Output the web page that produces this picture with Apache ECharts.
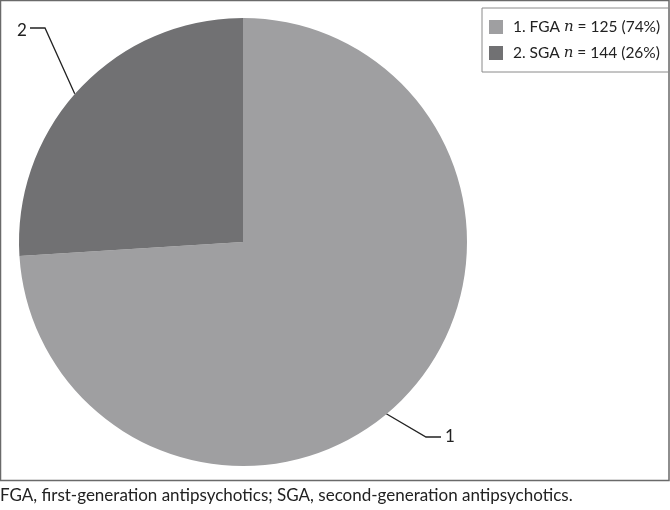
<!DOCTYPE html>
<html><head><meta charset="utf-8">
<script src="https://cdn.jsdelivr.net/npm/echarts@6/dist/echarts.min.js"></script>
<style>html,body{margin:0;padding:0;background:#fff}#c{width:670px;height:510px}</style>
</head><body><div id="c"></div>
<script>
var categories = ['1. FGA', '2. SGA'];
var counts = [125, 144];
var percents = [74, 26];
var sliceLabels = ['1', '2'];
var caption = 'FGA, first-generation antipsychotics; SGA, second-generation antipsychotics.';
var colors = ['#9f9fa1', '#717173'];

var chart = echarts.init(document.getElementById('c'));
var data = categories.map(function (c, i) {
  return { name: c, value: percents[i], itemStyle: { color: colors[i] } };
});
var FONT = 'Lato, "Open Sans", sans-serif';
chart.setOption({
  animation: false,
  graphic: [
    { type: 'rect', shape: { x: 0.5, y: 0.5, width: 668.5, height: 480 }, style: { fill: 'none', stroke: '#6a6a6a', lineWidth: 1.5 }, silent: true },
    { type: 'text', left: 0, top: 487, style: { text: caption, font: '17px ' + FONT, fill: '#222' } }
  ],
  legend: {
    orient: 'vertical',
    left: 482, top: 8,
    padding: [11, 9, 11, 7],
    borderColor: '#8a8a8a', borderWidth: 1,
    itemWidth: 14, itemHeight: 14, itemGap: 10,
    icon: 'rect',
    formatter: function (name) {
      var i = categories.indexOf(name);
      return name + ' {i|n} = ' + counts[i] + ' (' + percents[i] + '%)';
    },
    textStyle: {
      fontFamily: FONT, fontSize: 15.5, color: '#222', padding: [0, 0, 0, 5],
      rich: { i: { fontStyle: 'italic', fontFamily: 'DejaVu Serif, serif', fontSize: 15, color: '#222' } }
    }
  },
  series: [{
    type: 'pie',
    center: [243, 242],
    radius: 224,
    startAngle: 90,
    clockwise: true,
    data: data,
    itemStyle: { borderWidth: 0 },
    label: {
      show: true,
      formatter: function (p) { return sliceLabels[p.dataIndex]; },
      fontFamily: FONT, fontSize: 17, color: '#222'
    },
    labelLine: { show: true, lineStyle: { color: '#222', width: 1.3 } },
    labelLayout: function (p) {
      var a = p.labelLinePoints ? p.labelLinePoints[0] : [0, 0];
      if (p.dataIndex === 1) {
        return { x: 22, y: 31, align: 'center', verticalAlign: 'middle',
          labelLinePoints: [[a[0] - 5, a[1] + 5], [45, 28], [30, 28]] };
      }
      return { x: 450, y: 437, align: 'center', verticalAlign: 'middle',
        labelLinePoints: [[385, 413], [426, 437], [441, 437]] };
    },
    emphasis: { disabled: true }
  }]
});
</script></body></html>
